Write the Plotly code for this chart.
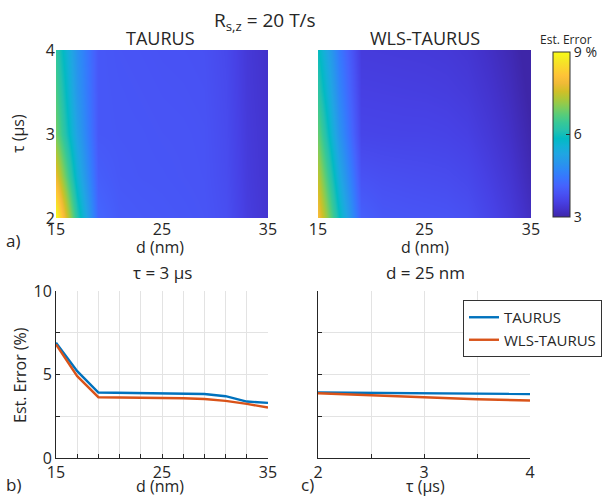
import plotly.graph_objects as go

# ---------------- data ----------------
d_grid = [15, 17, 19, 21, 23, 25, 27, 29, 31, 33, 35]          # nm
tau_grid = [2, 2.5, 3, 3.5, 4]                                  # us

taurus_map = [
    [9.0, 6.2, 4.20, 4.00, 3.97, 3.95, 3.93, 3.90, 3.80, 3.50, 3.35],
    [7.8, 5.6, 4.05, 3.95, 3.93, 3.92, 3.90, 3.88, 3.76, 3.47, 3.33],
    [6.9, 5.2, 3.95, 3.93, 3.92, 3.90, 3.89, 3.87, 3.74, 3.45, 3.32],
    [6.6, 5.0, 3.95, 3.92, 3.90, 3.88, 3.87, 3.85, 3.72, 3.43, 3.30],
    [6.3, 4.9, 3.95, 3.90, 3.88, 3.86, 3.85, 3.83, 3.70, 3.42, 3.28],
]
wls_map = [
    [8.0, 5.9, 4.10, 3.95, 3.92, 3.90, 3.88, 3.82, 3.65, 3.45, 3.20],
    [7.4, 5.4, 3.85, 3.80, 3.78, 3.76, 3.74, 3.68, 3.53, 3.35, 3.10],
    [6.8, 4.95, 3.64, 3.63, 3.62, 3.62, 3.60, 3.55, 3.42, 3.25, 3.02],
    [6.3, 4.7, 3.55, 3.54, 3.53, 3.52, 3.50, 3.45, 3.33, 3.17, 2.95],
    [5.9, 4.5, 3.47, 3.46, 3.45, 3.44, 3.42, 3.37, 3.25, 3.10, 2.90],
]

# panel b: tau = 3 us
d_line = [15, 17, 19, 21, 23, 25, 27, 29, 31, 33, 35]
taurus_d = [6.9, 5.2, 3.92, 3.9, 3.88, 3.86, 3.85, 3.83, 3.7, 3.38, 3.3]
wls_d = [6.8, 4.9, 3.64, 3.63, 3.62, 3.61, 3.58, 3.53, 3.42, 3.24, 3.02]

# panel c: d = 25 nm
tau_line = [2, 2.5, 3, 3.5, 4]
taurus_tau = [3.92, 3.89, 3.87, 3.85, 3.83]
wls_tau = [3.88, 3.75, 3.62, 3.52, 3.44]

# ---------------- styling ----------------
parula = [
    (0.2422, 0.1504, 0.6603), (0.2647, 0.1978, 0.7952), (0.2783, 0.2559, 0.8991),
    (0.2810, 0.3228, 0.9579), (0.2699, 0.3892, 0.9906), (0.2206, 0.4603, 0.9973),
    (0.1786, 0.5289, 0.9682), (0.1540, 0.5902, 0.9218), (0.1248, 0.6459, 0.8883),
    (0.0689, 0.6948, 0.8394), (0.0067, 0.7312, 0.7660), (0.1408, 0.7584, 0.6842),
    (0.2161, 0.7843, 0.5923), (0.3406, 0.8008, 0.4789), (0.5044, 0.7993, 0.3480),
    (0.6720, 0.7793, 0.2227), (0.8203, 0.7498, 0.1535), (0.9393, 0.7288, 0.2100),
    (0.9970, 0.7659, 0.2199), (0.9786, 0.8386, 0.1766), (0.9597, 0.9135, 0.1423),
    (0.9769, 0.9839, 0.0805),
]
n = len(parula) - 1
cscale = [[i / n, "rgb(%d,%d,%d)" % tuple(round(c * 255) for c in rgb)] for i, rgb in enumerate(parula)]

FONT = "Open Sans"
TXT = "#262626"
BLUE = "#0072BD"
ORANGE = "#D95319"
GRID = "#e3e3e3"

W, H = 603, 497
ML, MR, MT, MB = 40, 40, 30, 30
PW, PH = W - ML - MR, H - MT - MB
def px(x): return (x - ML) / PW
def py(y): return 1 - (y - MT) / PH

fig = go.Figure()

fig.add_trace(go.Heatmap(x=d_grid, y=tau_grid, z=taurus_map, coloraxis="coloraxis",
                         zsmooth="best", xaxis="x", yaxis="y", hoverinfo="skip"))
fig.add_trace(go.Heatmap(x=d_grid, y=tau_grid, z=wls_map, coloraxis="coloraxis",
                         zsmooth="best", xaxis="x2", yaxis="y2", hoverinfo="skip"))

LW = 2.4
fig.add_trace(go.Scatter(x=d_line, y=taurus_d, mode="lines", line=dict(color=BLUE, width=LW),
                         xaxis="x3", yaxis="y3", showlegend=False))
fig.add_trace(go.Scatter(x=d_line, y=wls_d, mode="lines", line=dict(color=ORANGE, width=LW),
                         xaxis="x3", yaxis="y3", showlegend=False))
fig.add_trace(go.Scatter(x=tau_line, y=taurus_tau, mode="lines", line=dict(color=BLUE, width=LW),
                         xaxis="x4", yaxis="y4", name="TAURUS"))
fig.add_trace(go.Scatter(x=tau_line, y=wls_tau, mode="lines", line=dict(color=ORANGE, width=LW),
                         xaxis="x4", yaxis="y4", name="WLS-TAURUS"))

tickfont = dict(family=FONT, size=16, color=TXT)

hm_x = dict(range=[15, 35], tickvals=[15, 25, 35], showgrid=False, zeroline=False,
            showline=False, ticks="", tickfont=tickfont, automargin=False)
top_y = [py(218), py(50)]
bot_y = [py(458), py(291)]

def minor(dt, t0):
    return dict(ticks="inside", ticklen=4, tickcolor=TXT, showgrid=True, gridcolor=GRID,
                gridwidth=1, dtick=dt, tick0=t0)

line_ax = dict(showgrid=True, gridcolor=GRID, gridwidth=1, zeroline=False, showline=True,
               linecolor=TXT, linewidth=1, ticks="inside", ticklen=4, tickcolor=TXT,
               tickfont=tickfont, mirror=False, automargin=False)

fig.update_layout(
    template="none",
    width=W, height=H, margin=dict(l=ML, r=MR, t=MT, b=MB, autoexpand=False),
    paper_bgcolor="white", plot_bgcolor="white",
    font=dict(family=FONT, color=TXT),
    xaxis=dict(domain=[px(56), px(268)], anchor="y", **hm_x),
    yaxis=dict(domain=top_y, anchor="x", range=[2, 4], tickvals=[2, 3, 4], showgrid=False,
               zeroline=False, showline=False, ticks="", tickfont=tickfont, automargin=False),
    xaxis2=dict(domain=[px(318), px(531)], anchor="y2", **hm_x),
    yaxis2=dict(domain=top_y, anchor="x2", range=[2, 4], tickvals=[2, 3, 4], showticklabels=False,
                showgrid=False, zeroline=False, showline=False, ticks="", automargin=False),
    xaxis3=dict(domain=[px(56), px(268)], anchor="y3", range=[15, 35], tick0=15, dtick=10,
                minor=minor(2, 15), **line_ax),
    yaxis3=dict(domain=bot_y, anchor="x3", range=[0, 10], tick0=0, dtick=5,
                minor=minor(2.5, 0), **line_ax),
    xaxis4=dict(domain=[px(318), px(530)], anchor="y4", range=[2, 4], tick0=2, dtick=1,
                minor=minor(0.5, 2), **line_ax),
    yaxis4=dict(domain=bot_y, anchor="x4", range=[0, 10], tick0=0, dtick=5,
                minor=minor(2.5, 0), showticklabels=False, **line_ax),
    coloraxis=dict(colorscale=cscale, cmin=3, cmax=9,
                   colorbar=dict(x=px(553), xanchor="left", y=py(134.5), yanchor="middle",
                                 len=165 / PH, lenmode="fraction", thickness=17, thicknessmode="pixels",
                                 outlinecolor="#333333", outlinewidth=1, tickvals=[3, 6, 9],
                                 ticktext=["3", "6", "9 %"], ticks="inside", ticklen=4,
                                 tickcolor=TXT, tickfont=dict(family=FONT, size=14, color=TXT),
                                 xpad=0, ypad=0)),
    legend=dict(x=px(463), y=py(300), xanchor="left", yanchor="top", bgcolor="white",
                bordercolor="#333333", borderwidth=1, font=dict(family=FONT, size=15, color=TXT),
                tracegroupgap=0, itemwidth=30),
    showlegend=True,
)

def ann(x, y, text, size, **kw):
    fig.add_annotation(x=px(x), y=py(y), xref="paper", yref="paper", text=text, showarrow=False,
                       xanchor="center", yanchor="middle",
                       font=dict(family=FONT, size=size, color=TXT), **kw)

ann(265, 21, "R<sub>s,z</sub> = 20 T/s", 19)
ann(160, 38, "TAURUS", 18)
ann(425, 38, "WLS-TAURUS", 18)
ann(566, 39, "Est. Error", 12)
ann(160, 247, "d (nm)", 16)
ann(18, 134, "τ (µs)", 16, textangle=-90)
ann(425, 247, "d (nm)", 16)
ann(13, 240, "a)", 17)
ann(162, 272, "τ = 3 µs", 17)
ann(425, 272, "d = 25 nm", 17)
ann(20, 375, "Est. Error (%)", 16, textangle=-90)
ann(160, 486, "d (nm)", 16)
ann(425, 486, "τ (µs)", 16)
ann(13, 484, "b)", 17)
ann(307, 484, "c)", 17)

fig.write_html("out.html", config={"displayModeBar": False},
               post_script="document.body.style.margin='0px';")
